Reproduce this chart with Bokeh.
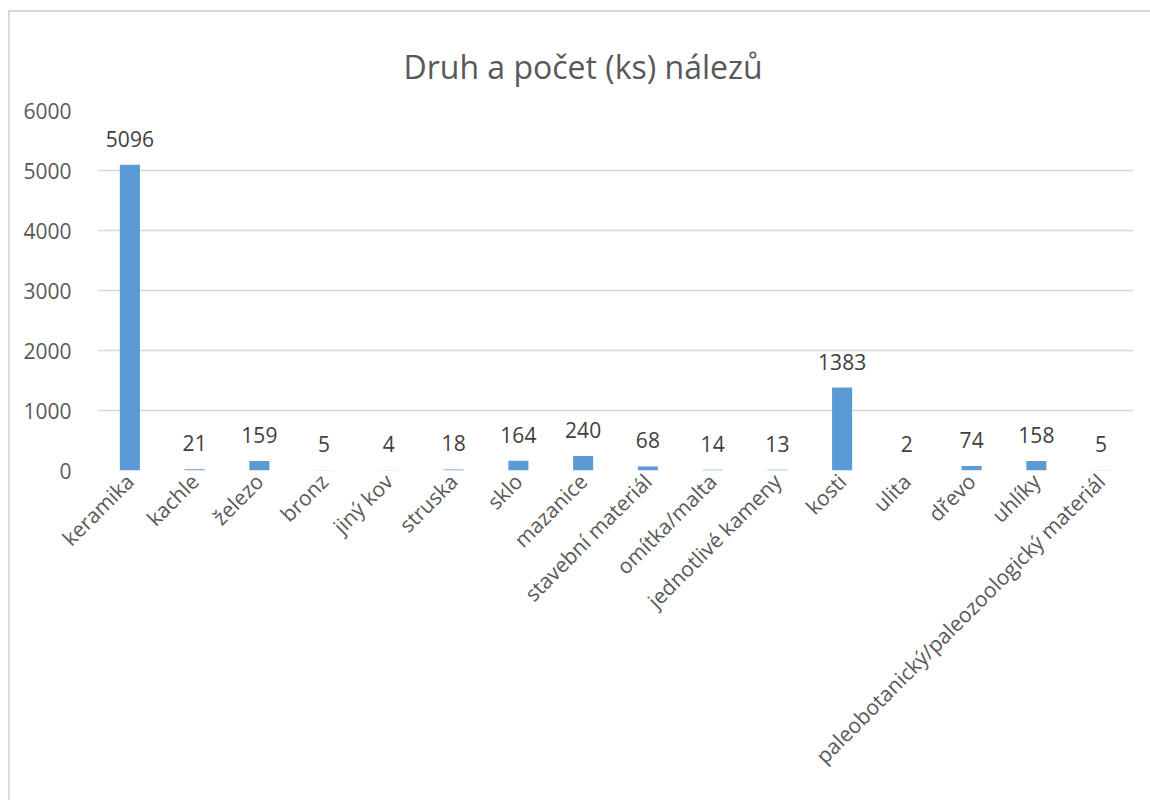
import math
from bokeh.plotting import figure
from bokeh.models import ColumnDataSource, FactorRange, Range1d, FixedTicker
from bokeh.core.properties import value
from bokeh.embed import file_html
from bokeh.resources import INLINE

categories = ["keramika", "kachle", "železo", "bronz", "jiný kov", "struska", "sklo",
              "mazanice", "stavební materiál", "omítka/malta", "jednotlivé kameny",
              "kosti", "ulita", "dřevo", "uhlíky",
              "paleobotanický/paleozoologický materiál"]
counts = [5096, 21, 159, 5, 4, 18, 164, 240, 68, 14, 13, 1383, 2, 74, 158, 5]
y_ticks = [0, 1000, 2000, 3000, 4000, 5000, 6000]

FONT = "Open Sans"
source = ColumnDataSource(dict(cat=categories, val=counts, lbl=[str(c) for c in counts]))

p = figure(width=1142, height=790, output_backend="svg", toolbar_location=None,
           x_range=FactorRange(*categories, range_padding=0),
           y_range=Range1d(0, 6000),
           title="Druh a počet (ks) nálezů",
           min_border_left=87, min_border_right=19, min_border_top=98, min_border_bottom=332)
p.styles = {"border-left": "2px solid #d9d9d9", "border-top": "2px solid #d9d9d9",
            "margin-left": "8px", "margin-top": "10px"}

p.vbar(x="cat", top="val", width=0.31, source=source, color="#5B9BD5", line_color=None)
p.text(x="cat", y="val", text="lbl", source=source, text_align="center",
       text_baseline="alphabetic", y_offset=-26, text_font=value(FONT),
       text_font_size="21px", text_color="#404040")

p.title.align = "left"
p.title.text_font = FONT
p.title.text_font_size = "32px"
p.title.text_font_style = "normal"
p.title.text_color = "#595959"
p.title.offset = 306
p.title.standoff = 45

p.outline_line_color = None
p.xgrid.grid_line_color = None
p.ygrid.grid_line_color = "#d9d9d9"
p.ygrid.grid_line_width = 1.5
p.yaxis.ticker = FixedTicker(ticks=y_ticks)
for ax in (p.xaxis, p.yaxis):
    ax.axis_line_color = None
    ax.major_tick_line_color = None
    ax.minor_tick_line_color = None
    ax.major_label_text_font = FONT
    ax.major_label_text_font_size = "21px"
    ax.major_label_text_color = "#595959"
p.yaxis.major_label_standoff = 20
p.xaxis.major_label_orientation = math.pi / 4
p.xaxis.major_label_standoff = 1

open("out.html", "w").write(file_html(p, INLINE))
